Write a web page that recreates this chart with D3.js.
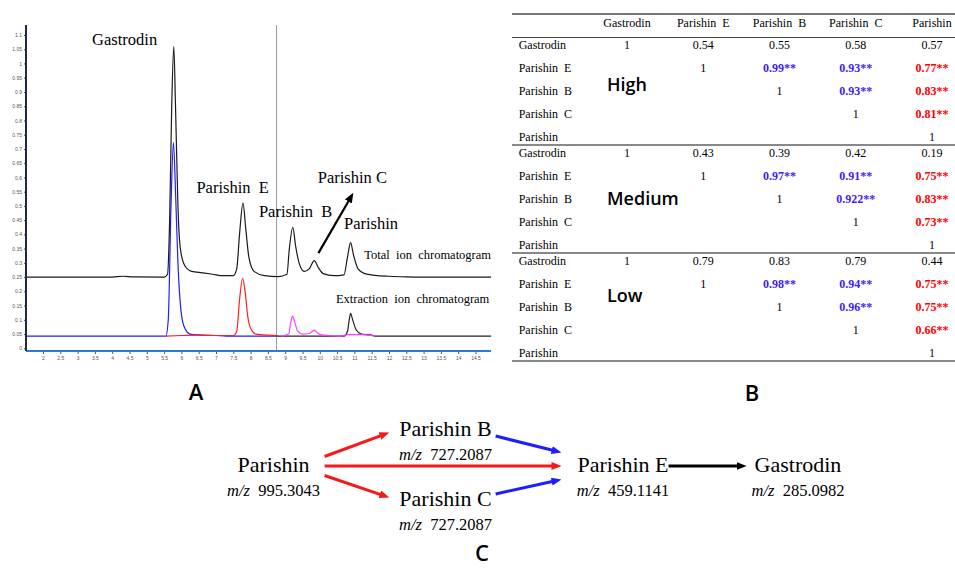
<!DOCTYPE html>
<html>
<head>
<meta charset="utf-8">
<title>Gastrodin and parishins</title>
<script src="https://cdn.jsdelivr.net/npm/d3@7"></script>
<style>
  body {margin:0; background:#fff;}
  svg {display:block; font-family:'Liberation Serif',serif;}
  .tiny text {font-family:'Liberation Sans',sans-serif; font-size:5px; fill:#555;}
  .tiny line {stroke:#555;}
  .pre {white-space:pre;}
  .panel {font-family:'Open Sans',sans-serif; font-size:22px; font-weight:600;}
  .level {font-family:'Open Sans',sans-serif; font-size:18px; font-weight:600;}
</style>
</head>
<body>
<svg id="fig" width="955" height="569"></svg>
<script>
// ---------- A: chromatograms, [time (min), relative abundance]
var ticTrace=[[1.5,0.25],[2,0.25],[3,0.25],[4,0.25],[4.3,0.253],[4.6,0.251],[5.5,0.25],[5.6,0.26],
  [5.66,0.45],[5.72,0.85],[5.78,1.06],[5.83,0.85],[5.9,0.5],[5.97,0.35],[6.1,0.29],[6.3,0.27],
  [6.6,0.265],[6.9,0.26],[7.2,0.255],[7.5,0.255],[7.6,0.28],[7.68,0.4],[7.78,0.51],[7.86,0.42],
  [7.95,0.32],[8.1,0.27],[8.4,0.255],[8.8,0.252],[9.05,0.26],[9.12,0.35],[9.22,0.425],[9.3,0.36],
  [9.4,0.3],[9.55,0.27],[9.7,0.28],[9.84,0.308],[9.95,0.285],[10.1,0.262],[10.4,0.255],[10.7,0.258],
  [10.8,0.32],[10.89,0.371],[10.97,0.33],[11.1,0.28],[11.3,0.262],[11.6,0.256],[12,0.253],
  [12.5,0.251],[13,0.25],[14.95,0.25]];
var eicGastrodin=[[1.5,0.043],[5.55,0.043],[5.62,0.1],[5.7,0.5],[5.77,0.723],[5.83,0.55],[5.9,0.3],
  [6.0,0.12],[6.1,0.07],[6.25,0.05],[6.5,0.047],[7.0,0.045],[7.3,0.043],[8.75,0.043]];
var eicParishinE=[[5.55,0.043],[6.0,0.045],[6.5,0.046],[7.0,0.045],[7.5,0.045],[7.6,0.06],[7.68,0.17],
  [7.77,0.246],[7.84,0.2],[7.92,0.11],[8.0,0.07],[8.15,0.05],[8.5,0.046],[8.8,0.045]];
var eicParishinBC=[[8.9,0.043],[9.1,0.05],[9.16,0.09],[9.21,0.113],[9.28,0.09],[9.36,0.06],[9.5,0.05],
  [9.7,0.052],[9.84,0.064],[9.95,0.052],[10.1,0.046],[10.4,0.044],[10.6,0.043],[10.8,0.048],
  [11.2,0.048],[11.5,0.045],[11.6,0.043]];
var eicParishin=[[8.75,0.043],[10.7,0.043],[10.8,0.06],[10.85,0.1],[10.89,0.123],[10.95,0.1],
  [11.05,0.065],[11.2,0.05],[11.5,0.046],[11.6,0.043],[14.95,0.043]];
var xTicks=d3.range(2,14.51,0.5), yTicks=d3.range(0,1.1001,0.05);
var peakNames=['Gastrodin','Parishin  E','Parishin  B','Parishin C','Parishin'];
var peakLabelAt=[[4.36,1.065],[7.48,0.545],[9.3,0.462],[10.94,0.581],[11.48,0.419]];
var traceNames=['Total  ion  chromatogram','Extraction  ion  chromatogram'];
var traceLabelAt=[[14.95,0.3125],[14.9,0.16]];
var markerTime=8.75;

// ---------- B: correlation tables
var compounds=['Gastrodin','Parishin  E','Parishin  B','Parishin  C','Parishin'];
var levels=['High','Medium','Low'];
var corrHigh=[[1,0.54,0.55,0.58,0.57],[null,1,0.99,0.93,0.77],[null,null,1,0.93,0.83],
  [null,null,null,1,0.81],[null,null,null,null,1]];
var corrMedium=[[1,0.43,0.39,0.42,0.19],[null,1,0.97,0.91,0.75],[null,null,1,0.922,0.83],
  [null,null,null,1,0.73],[null,null,null,null,1]];
var corrLow=[[1,0.79,0.83,0.79,0.44],[null,1,0.98,0.94,0.75],[null,null,1,0.96,0.75],
  [null,null,null,1,0.66],[null,null,null,null,1]];

// ---------- C: pathway
var pathNames=['Parishin','Parishin B','Parishin C','Parishin E','Gastrodin'];
var pathMz=['995.3043','727.2087','727.2087','459.1141','285.0982'];
var pathStage=[0,1,1,2,3];
var pathLane=['mid','top','bottom','mid','mid'];
var linkFrom=['Parishin','Parishin','Parishin','Parishin B','Parishin C','Parishin E'];
var linkTo=['Parishin B','Parishin E','Parishin C','Parishin E','Parishin E','Gastrodin'];
var linkKind=['red','red','red','blue','blue','black'];

var svg=d3.select('#fig');
var colours={red:'#f51a1a',blue:'#1d1dff',black:'#000'};
var defs=svg.append('defs');
Object.keys(colours).forEach(function(k){
  defs.append('marker').attr('id','head_'+k).attr('viewBox','0 0 10 8')
    .attr('markerUnits','userSpaceOnUse').attr('markerWidth',10).attr('markerHeight',8)
    .attr('refX',4).attr('refY',4).attr('orient','auto')
    .append('path').attr('d','M0,0L10,4L0,8Z').attr('fill',colours[k]);
});

// ===== panel A
var x=d3.scaleLinear().domain([2,14.5]).range([43,475.5]),
    y=d3.scaleLinear().domain([0,1.1]).range([348.3,35]);
var line=d3.line().curve(d3.curveMonotoneX).x(d=>x(d[0])).y(d=>y(d[1]));
var gA=svg.append('g');
gA.append('line').attr('x1',x(markerTime)).attr('x2',x(markerTime)).attr('y1',25).attr('y2',351)
  .attr('stroke','#999').attr('stroke-width',1);
[[eicParishin,'#222'],[eicGastrodin,'#1f1fff'],[eicParishinE,'#ff2020'],
 [eicParishinBC,'#ff3cff'],[ticTrace,'#1a1a1a']].forEach(function(t){
  gA.append('path').datum(t[0]).attr('d',line).attr('fill','none')
    .attr('stroke',t[1]).attr('stroke-width',1.2);
});
gA.append('g').attr('class','tiny').attr('transform','translate(26,0)')
  .call(d3.axisLeft(y).tickValues(yTicks).tickSize(2).tickPadding(2)
  .tickFormat(d=>String(+d.toFixed(2))))
  .call(g=>g.select('.domain').remove());
gA.append('g').attr('class','tiny').attr('transform','translate(0,352)')
  .call(d3.axisBottom(x).tickValues(xTicks).tickSize(2).tickPadding(2)
  .tickFormat(d=>String(+d.toFixed(1))))
  .call(g=>g.select('.domain').remove());
gA.append('line').attr('x1',26).attr('x2',491).attr('y1',351).attr('y2',351)
  .attr('stroke','#2a7bd4').attr('stroke-width',2);
gA.append('line').attr('x1',26).attr('x2',26).attr('y1',25).attr('y2',351)
  .attr('stroke','#1e2a44').attr('stroke-width',2);
gA.selectAll('text.peak').data(peakNames).join('text').attr('class','peak pre')
  .attr('x',(d,i)=>x(peakLabelAt[i][0])).attr('y',(d,i)=>y(peakLabelAt[i][1]))
  .attr('text-anchor','middle').attr('font-size',16.5).text(d=>d);
gA.selectAll('text.trace').data(traceNames).join('text').attr('class','trace pre')
  .attr('x',(d,i)=>x(traceLabelAt[i][0])).attr('y',(d,i)=>y(traceLabelAt[i][1]))
  .attr('text-anchor','end').attr('font-size',12.5).text(d=>d);
// arrow from the small Parishin C peak up to its label
var ax0=x(9.96), ay0=y(0.334), ax1=x(10.97), ay1=y(0.546);
var al=Math.hypot(ax1-ax0,ay1-ay0);
gA.append('line').attr('x1',ax0).attr('y1',ay0)
  .attr('x2',ax1-(ax1-ax0)/al*6).attr('y2',ay1-(ay1-ay0)/al*6)
  .attr('stroke','#000').attr('stroke-width',2.2).attr('marker-end','url(#head_black)');
svg.append('text').attr('class','panel').attr('x',196).attr('y',400)
  .attr('text-anchor','middle').text('A');

// ===== panel B
var colX=d3.scalePoint().domain(compounds).range([627,932]);
var blockY=d3.scaleBand().domain(levels).range([37,361]);
var rowY=d3.scalePoint().domain(compounds).range([11.5,103.5]);
var levelDy=[54,60,49];
var gB=svg.append('g').attr('font-size',12);
gB.selectAll('text.head').data(compounds).join('text').attr('class','head pre')
  .attr('x',d=>colX(d)).attr('y',26.7).attr('text-anchor','middle').text(d=>d);
[[14,2,'#777'],[37.5,1,'#444']].concat(levels.slice(1).map(l=>[blockY(l),2,'#888']))
  .concat([[361,2,'#888']]).forEach(function(r){
  gB.append('line').attr('x1',512).attr('x2',955).attr('y1',r[0]).attr('y2',r[0])
    .attr('stroke',r[2]).attr('stroke-width',r[1]);
});
[corrHigh,corrMedium,corrLow].forEach(function(m,li){
  var top=blockY(levels[li]);
  var g=gB.append('g').attr('transform','translate(0,'+top+')');
  g.selectAll('text.row').data(compounds).join('text').attr('class','row pre')
    .attr('x',518.7).attr('y',d=>rowY(d)).text(d=>d);
  var cells=[];
  m.forEach((row,r)=>row.forEach((v,c)=>{ if(v!==null) cells.push({r:r,c:c,v:v}); }));
  g.selectAll('text.cell').data(cells).join('text').attr('class','cell')
    .attr('x',d=>colX(compounds[d.c])).attr('y',d=>rowY(compounds[d.r]))
    .attr('text-anchor','middle')
    .attr('font-weight',d=>d.r>0&&d.c>d.r?'bold':null)
    .attr('fill',d=>d.r>0&&d.c>d.r?(d.c===4?'#ff0000':'#3d1cff'):'#000')
    .text(d=>String(d.v)+(d.r>0&&d.c>d.r?'**':''));
  g.append('text').attr('class','level').attr('x',607).attr('y',levelDy[li]).text(levels[li]);
});
svg.append('text').attr('class','panel').attr('x',752).attr('y',401)
  .attr('text-anchor','middle').text('B');

// ===== panel C
var stageX=d3.scaleOrdinal().domain([0,1,2,3]).range([273.5,445.5,623,798]);
var laneY=d3.scaleOrdinal().domain(['top','mid','bottom']).range([436,472,506]);
var laneIdx={top:-1,mid:0,bottom:1};
var gC=svg.append('g');
var nodes={};
pathNames.forEach(function(n,i){
  var cx=stageX(pathStage[i]), by=laneY(pathLane[i]);
  var t=gC.append('text').attr('x',cx).attr('y',by).attr('text-anchor','middle')
    .attr('font-size',22).text(n);
  var w=t.node().getComputedTextLength();
  var mz=gC.append('text').attr('class','pre').attr('x',cx).attr('y',by+23.5)
    .attr('text-anchor','middle').attr('font-size',16.5);
  mz.append('tspan').attr('font-style','italic').text('m/z');
  mz.append('tspan').text('  '+pathMz[i]);
  nodes[n]={left:cx-w/2,right:cx+w/2,cy:by-6,stage:pathStage[i],lane:laneIdx[pathLane[i]]};
});
var gapOut=[15,4,0], gapIn=[0,10,16,8];
linkFrom.forEach(function(f,i){
  var s=nodes[f], t=nodes[linkTo[i]], d=t.lane-s.lane;
  var sx=s.right+gapOut[s.stage], sy=s.cy+d*(s.stage===0?9.5:6);
  var tx=t.left-gapIn[t.stage], ty=t.cy-d*(t.stage===1?2.5:13.5);
  var L=Math.hypot(tx-sx,ty-sy);
  gC.append('line').attr('x1',sx).attr('y1',sy)
    .attr('x2',tx-(tx-sx)/L*6).attr('y2',ty-(ty-sy)/L*6)
    .attr('stroke',colours[linkKind[i]]).attr('stroke-width',3)
    .attr('marker-end','url(#head_'+linkKind[i]+')');
});
svg.append('text').attr('class','panel').attr('x',482).attr('y',561)
  .attr('text-anchor','middle').text('C');
</script>
</body>
</html>
